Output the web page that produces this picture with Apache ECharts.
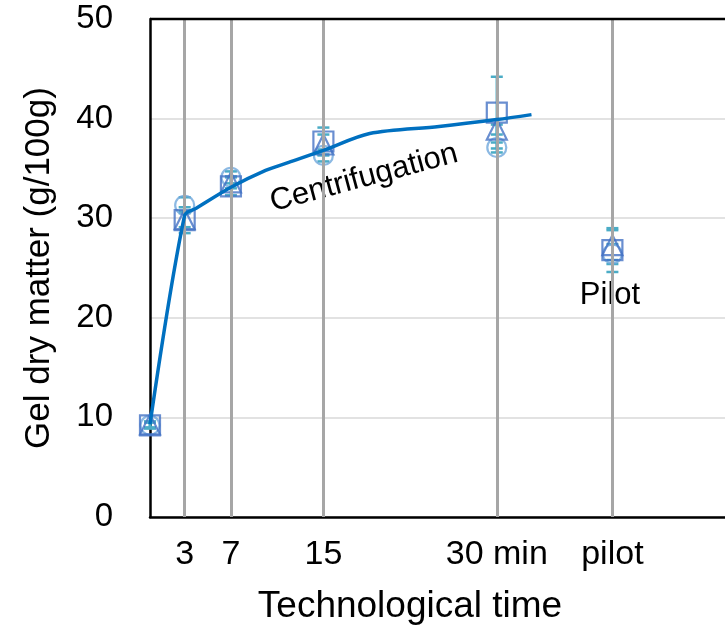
<!DOCTYPE html>
<html><head><meta charset="utf-8">
<script src="https://cdn.jsdelivr.net/npm/echarts@6/dist/echarts.min.js"></script>
<style>html,body{margin:0;padding:0;background:#fff}#c{width:725px;height:627px}</style>
</head><body><div id="c"></div>
<script>
const timePoints = [0, 3, 7, 15, 30, 40];
const tickValues = [3, 7, 15, 30, 40];
const tickLabels = ['3', '7', '15', '30 min', 'pilot'];
const circleVals = [9.2, 31.3, 34.1, 36.3, 37.1, 26.4];
const triangleVals = [9.3, 29.9, 33.6, 37.4, 38.9, 27.3];
const squareVals = [9.2, 29.8, 33.2, 37.7, 40.6, 26.8];
const circleErr = [0.3, 0.8, 0.6, 0.6, 0.5, 1.0];
const triangleErr = [0.3, 0.8, 0.6, 1.0, 0.5, 1.5];
const squareErr = [0.3, 1.3, 0.9, 1.4, 3.6, 2.2];
const curveX = [0, 3, 4, 7, 10, 12, 15, 19, 25, 30, 33];
const curveY = [9.3, 30.3, 31.0, 33.1, 34.8, 35.6, 36.8, 38.5, 39.2, 39.9, 40.4];

const pair = (xs, ys) => xs.map((x, i) => [x, ys[i]]);
const errData = (ys, es) => timePoints.map((x, i) => [x, ys[i] - es[i], ys[i] + es[i]]);

function errRender(params, api) {
  const x = api.value(0);
  const lo = api.coord([x, api.value(1)]);
  const hi = api.coord([x, api.value(2)]);
  const cw = 6;
  const style = { stroke: '#4BACC6', lineWidth: 2.5 };
  return { type: 'group', children: [
    { type: 'line', shape: { x1: lo[0], y1: lo[1], x2: hi[0], y2: hi[1] }, style },
    { type: 'line', shape: { x1: lo[0] - cw, y1: lo[1], x2: lo[0] + cw, y2: lo[1] }, style },
    { type: 'line', shape: { x1: hi[0] - cw, y1: hi[1], x2: hi[0] + cw, y2: hi[1] }, style }
  ]};
}

const FONT = 'Liberation Sans, Arial, sans-serif';
const chart = echarts.init(document.getElementById('c'));
const marker = (name, sym, vals, color, size) => ({
  name, type: 'scatter', data: pair(timePoints, vals), symbol: sym, symbolSize: size, z: 4,
  itemStyle: { color: 'rgba(255,255,255,0)', borderColor: color, borderWidth: 2.2 }
});
const errSeries = (ys, es) => ({ type: 'custom', renderItem: errRender, data: errData(ys, es), z: 3, encode: { x: 0, y: [1, 2] } });

chart.setOption({
  animation: false,
  grid: { left: 150, top: 19, width: 578, height: 498, outerBoundsMode: 'none', containLabel: false },
  xAxis: {
    type: 'value', min: 0, max: 50,
    name: 'Technological time', nameLocation: 'middle', nameGap: 71,
    nameTextStyle: { fontFamily: FONT, fontSize: 37, color: '#000', padding: [0, 58, 0, 0] },
    axisLine: { show: true, onZero: false, lineStyle: { color: '#000', width: 2.5 } },
    axisTick: { show: false },
    splitLine: { show: false },
    axisLabel: { customValues: tickValues, formatter: v => tickLabels[tickValues.indexOf(v)] || '',
      fontFamily: FONT, fontSize: 34, color: '#000', margin: 21 }
  },
  yAxis: {
    type: 'value', min: 0, max: 50, interval: 10,
    name: 'Gel dry matter (g/100g)', nameLocation: 'middle', nameGap: 93,
    nameTextStyle: { fontFamily: FONT, fontSize: 35, color: '#000' },
    axisLine: { show: true, lineStyle: { color: '#000', width: 2.5 } },
    axisTick: { show: false },
    splitLine: { show: true, lineStyle: { color: '#D9D9D9', width: 1.5 } },
    axisLabel: { fontFamily: FONT, fontSize: 33, color: '#000', margin: 37 }
  },
  graphic: [
    { type: 'line', shape: { x1: 150, y1: 19, x2: 725, y2: 19 }, style: { stroke: '#000', lineWidth: 2.5 }, z: 10 },
    { type: 'text', x: 364, y: 178, rotation: 15 * Math.PI / 180,
      style: { text: 'Centrifugation', font: '31px ' + FONT, fill: '#000', textAlign: 'center', textVerticalAlign: 'middle' } },
    { type: 'text', x: 610, y: 295,
      style: { text: 'Pilot', font: '31px ' + FONT, fill: '#000', textAlign: 'center', textVerticalAlign: 'middle' } }
  ],
  series: [
    { type: 'scatter', data: [], z: 1, markLine: { silent: true, symbol: 'none', label: { show: false },
        lineStyle: { color: '#A6A6A6', width: 3, type: 'solid' },
        data: tickValues.map(v => ({ xAxis: v })) } },
    errSeries(circleVals, circleErr),
    errSeries(triangleVals, triangleErr),
    errSeries(squareVals, squareErr),
    marker('circle', 'circle', circleVals, '#6FA8DC', 19),
    marker('triangle', 'triangle', triangleVals, '#4472C4', 20),
    marker('square', 'rect', squareVals, '#4472C4', 20),
    { type: 'line', data: pair(curveX, curveY), smooth: 0.3, showSymbol: false, z: 6,
      lineStyle: { color: '#0070C0', width: 3.5 } }
  ]
});
</script></body></html>
